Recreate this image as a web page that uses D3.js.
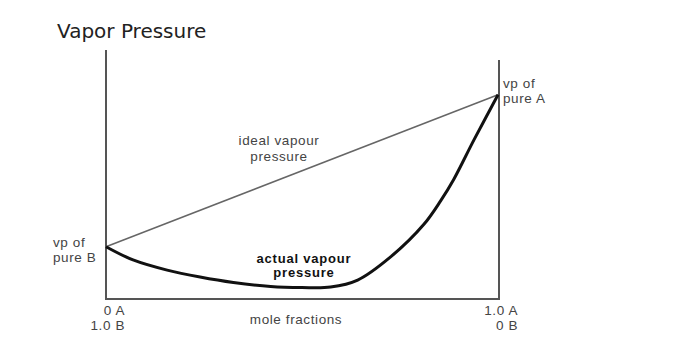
<!DOCTYPE html>
<html>
<head>
<meta charset="utf-8">
<script src="https://cdn.jsdelivr.net/npm/d3@7"></script>
<style>
  body { margin: 0; background: #fff; }
  svg { display: block; }
</style>
</head>
<body>
<div id="chart"></div>
<script>
// mole fraction of A (0..1) and pressure (arbitrary units 0..100)
var moleFractionA = [0, 0.069, 0.156, 0.24, 0.325, 0.42, 0.5, 0.573, 0.642, 0.726, 0.811, 0.854, 0.887, 0.939, 1];
var actualPressure = [21, 15.7, 11.6, 8.8, 6.6, 5.0, 4.6, 4.8, 7.6, 16.9, 30.0, 39.5, 48.0, 64.0, 82];
var idealEnds = [21, 82];          // vp of pure B, vp of pure A
var axisTops = [100, 96];          // left and right frame heights
var leftTicks = ["0 A", "1.0 B"];
var rightTicks = ["1.0 A", "0 B"];

var width = 699, height = 354;

var svg = d3.select("#chart").append("svg")
    .attr("width", width)
    .attr("height", height);

var x = d3.scaleLinear().domain([0, 1]).range([106, 498]);
var y = d3.scaleLinear().domain([0, 100]).range([299, 50]);

svg.append("text")
    .attr("x", 57)
    .attr("y", 38)
    .attr("font-family", "DejaVu Sans, sans-serif")
    .attr("font-size", 20)
    .attr("fill", "#222")
    .text("Vapor Pressure");

// frame: left, bottom, right
var frame = svg.append("g")
    .attr("stroke", "#555")
    .attr("stroke-width", 2)
    .attr("fill", "none");
frame.append("path")
    .attr("d", "M" + x(0) + "," + y(axisTops[0]) + "V" + y(0) + "H" + (x(1) + 1) + "V" + y(axisTops[1]));

// ideal line
svg.append("line")
    .attr("x1", x(0)).attr("y1", y(idealEnds[0]))
    .attr("x2", x(1)).attr("y2", y(idealEnds[1]))
    .attr("stroke", "#666")
    .attr("stroke-width", 1.5);

// actual curve
var pts = moleFractionA.map(function (d, i) { return [d, actualPressure[i]]; });
var line = d3.line()
    .x(function (d) { return x(d[0]); })
    .y(function (d) { return y(d[1]); })
    .curve(d3.curveCatmullRom.alpha(0.5));
svg.append("path")
    .datum(pts)
    .attr("d", line)
    .attr("fill", "none")
    .attr("stroke", "#111")
    .attr("stroke-width", 3)
    .attr("stroke-linejoin", "round");

var lab = svg.append("g")
    .attr("font-family", "Liberation Sans, Arial, sans-serif")
    .attr("font-size", 13.5)
    .attr("letter-spacing", 0.6)
    .attr("fill", "#444");

function twoLine(g, tx, ty, lines, anchor, dy) {
    var t = g.append("text")
        .attr("x", tx)
        .attr("y", ty)
        .attr("text-anchor", anchor);
    lines.forEach(function (s, i) {
        t.append("tspan").attr("x", tx).attr("dy", i ? dy : 0).text(s);
    });
    return t;
}

twoLine(lab, 279, 145, ["ideal vapour", "pressure"], "middle", 16);
twoLine(lab, 53, 247, ["vp of", "pure B"], "start", 15);
twoLine(lab, 503, 88, ["vp of", "pure A"], "start", 15);
twoLine(lab, 125, 315, leftTicks, "end", 15);
twoLine(lab, 518, 315, rightTicks, "end", 15);
lab.append("text")
    .attr("x", 296)
    .attr("y", 324)
    .attr("text-anchor", "middle")
    .text("mole fractions");

twoLine(lab, 304, 263, ["actual vapour", "pressure"], "middle", 14)
    .attr("font-weight", "bold")
    .attr("font-size", 13)
    .attr("letter-spacing", 0.8)
    .attr("fill", "#111");
</script>
</body>
</html>
